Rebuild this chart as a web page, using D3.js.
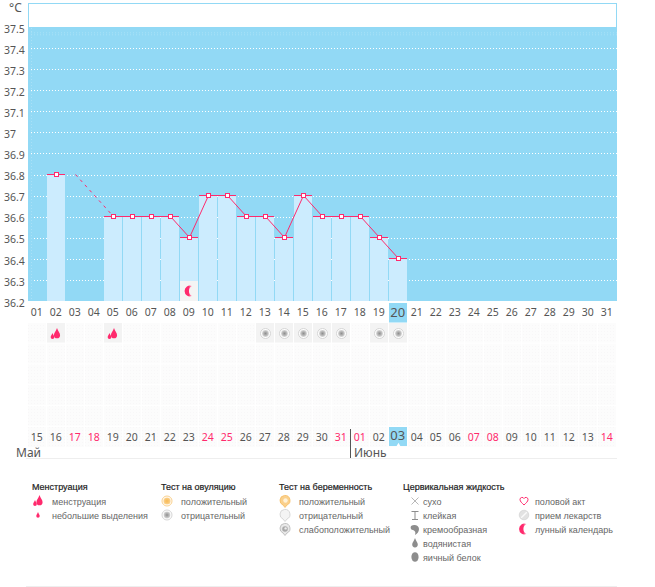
<!DOCTYPE html>
<html><head><meta charset="utf-8">
<script src="https://cdn.jsdelivr.net/npm/d3@7/dist/d3.min.js"></script>
<style>
html,body{margin:0;padding:0;background:#fff}
svg{display:block}
text{font-family:"Noto Sans","Open Sans",sans-serif}
text.lg{font-family:"Liberation Sans",Arial,sans-serif}
</style></head><body><div id="c"></div>
<script>
const cycleDays=["01","02","03","04","05","06","07","08","09","10","11","12","13","14","15","16","17","18","19","20","21","22","23","24","25","26","27","28","29","30","31"];
const calendarDates=["15","16","17","18","19","20","21","22","23","24","25","26","27","28","29","30","31","01","02","03","04","05","06","07","08","09","10","11","12","13","14"];
const weekendDates=["17","18","24","25","31","01","07","08","14"];
const temperatureDays=["02","05","06","07","08","09","10","11","12","13","14","15","16","17","18","19","20"];
const temperatureValues=[36.8,36.6,36.6,36.6,36.6,36.5,36.7,36.7,36.6,36.6,36.5,36.7,36.6,36.6,36.6,36.5,36.4];
const solidFromDay="05";
const gapDays=["03","05"], gapValues=[36.8,36.6];
const yTicks=[37.5,37.4,37.3,37.2,37.1,37,36.9,36.8,36.7,36.6,36.5,36.4,36.3,36.2];
const menstruationDays=["02","05"], ovulationNegDays=["13","14","15","16","17","19","20"], moonDays=["09"];
const todayDay="20", todayDate="03";
const months=["Май","Июнь"];
const legendGroups=[
 {title:"Менструация",items:[["менструация","flame"],["небольшие выделения","drop"]]},
 {title:"Тест на овуляцию",items:[["положительный","ovPos"],["отрицательный","ovNeg"]]},
 {title:"Тест на беременность",items:[["положительный","prPos"],["отрицательный","prNeg"],["слабоположительный","prWeak"]]},
 {title:"Цервикальная жидкость",items:[["сухо","dry"],["клейкая","sticky"],["кремообразная","creamy"],["водянистая","watery"],["яичный белок","egg"]]},
 {title:"",items:[["половой акт","heart"],["прием лекарств","pill"],["лунный календарь","moon"]]}
];

const W=655,H=587,BLUE="#92d9f5",LIGHT="#ccecfe",PINK="#ff2a6d",TXT="#555";
const svg=d3.select("#c").append("svg").attr("width",W).attr("height",H);
const defs=svg.append("defs");
const rg=(id,a,b,c)=>{const g=defs.append("radialGradient").attr("id",id);
 g.append("stop").attr("offset","0%").attr("stop-color",a);
 g.append("stop").attr("offset","55%").attr("stop-color",b);
 g.append("stop").attr("offset","100%").attr("stop-color",c);};
rg("gN","#8f8f8f","#b5b5b5","#d8d8d8");
rg("gO","#f7b955","#f9c671","#fbd596");
const mg=defs.append("linearGradient").attr("id","gM");
mg.append("stop").attr("offset","0%").attr("stop-color",PINK);
mg.append("stop").attr("offset","55%").attr("stop-color",PINK);
mg.append("stop").attr("offset","100%").attr("stop-color","#ffc0d4");
const pat=defs.append("pattern").attr("id","dith").attr("width",3).attr("height",3).attr("patternUnits","userSpaceOnUse");
pat.append("rect").attr("width",3).attr("height",3).attr("fill","#fcfcfc");
pat.append("rect").attr("x",1).attr("y",1).attr("width",1).attr("height",1).attr("fill","#f8f7f8");

const x=d3.scaleBand().domain(cycleDays).range([28,617]);
const y=d3.scaleLinear().domain([36.2,37.5]).range([300.7,27.3]);
const cx=d=>x(d)+9.5, barW=18, step=x.step();
const crisp=v=>Math.round(v)+.5;

// plot frame
svg.append("rect").attr("x",28.5).attr("y",3.5).attr("width",588).attr("height",24).attr("fill","#fff").attr("stroke",BLUE);
svg.append("rect").attr("x",28).attr("y",27).attr("width",589).attr("height",274).attr("fill",BLUE);
// gridlines
svg.append("g").selectAll("line").data(yTicks.filter(t=>t<37.5)).join("line")
 .attr("x1",31).attr("x2",617).attr("y1",d=>crisp(y(d))).attr("y2",d=>crisp(y(d)))
 .attr("stroke","#fff").attr("stroke-dasharray","1,2");
svg.append("g").selectAll("line").data([5.5,7.5]).join("line")
 .attr("x1",31).attr("x2",617).attr("y1",d=>y(37.5)+d).attr("y2",d=>y(37.5)+d)
 .attr("stroke","#a9e1f7").attr("stroke-dasharray","1,2");
svg.append("line").attr("x1",31.5).attr("x2",31.5).attr("y1",28).attr("y2",300).attr("stroke","#a9e1f7").attr("stroke-dasharray","1,2");

// y axis labels
const ya=svg.append("g").attr("transform","translate(22,2)").call(d3.axisLeft(y).tickValues(yTicks).tickSize(0).tickFormat(d=>String(d)));
ya.select(".domain").remove();
ya.selectAll("text").attr("x",-18).attr("text-anchor","start").attr("font-size",10.5).attr("fill",TXT).style("font-family",'"Noto Sans"');
svg.append("text").attr("x",9).attr("y",12).attr("font-size",12).attr("fill",TXT).text("°C");

// bars
const temps=temperatureDays.map((d,i)=>({d,v:temperatureValues[i]}));
const my=v=>Math.round(y(v)-.7)+.5;
svg.append("g").selectAll("rect").data(temps).join("rect")
 .attr("x",d=>x(d.d)).attr("y",d=>my(d.v)).attr("width",barW).attr("height",d=>301-my(d.v)).attr("fill",LIGHT);

// moon cell
svg.append("g").selectAll("rect").data(moonDays).join("rect").attr("x",d=>x(d)).attr("y",281).attr("width",barW).attr("height",20).attr("fill","#f4f4f4");

// cell grid
const rows=d3.range(5);
const rowY=r=>323+r*20.8;
const grid=svg.append("g");
rows.forEach(r=>grid.append("g").selectAll("rect").data(cycleDays).join("rect")
 .attr("x",d=>x(d)).attr("y",rowY(r)).attr("width",barW).attr("height",19.5).attr("fill","url(#dith)"));
grid.append("g").selectAll("rect").data(cycleDays).join("rect")
 .attr("x",d=>x(d)).attr("y",427).attr("width",barW).attr("height",20).attr("fill","url(#dith)");
svg.append("g").selectAll("rect").data(menstruationDays.concat(ovulationNegDays)).join("rect")
 .attr("x",d=>x(d)).attr("y",rowY(0)).attr("width",barW).attr("height",19.5).attr("fill","#f3f3f3");

// today highlights
svg.append("rect").attr("x",x(todayDay)).attr("y",303).attr("width",barW).attr("height",19.5).attr("fill",BLUE);
const iDate=calendarDates.indexOf(todayDate);
svg.append("rect").attr("x",x(cycleDays[iDate])).attr("y",427).attr("width",barW).attr("height",19).attr("fill",BLUE);
svg.append("path").attr("d",d3.symbol(d3.symbolTriangle,9)()).attr("transform",`translate(${cx(cycleDays[iDate])},445.5)`).attr("fill","#fff");

// labels
svg.append("g").selectAll("text").data(cycleDays).join("text")
 .attr("x",d=>cx(d)-.8).attr("y",d=>d===todayDay?317:316).attr("text-anchor","middle")
 .attr("font-size",d=>d===todayDay?13:10.5).attr("fill",TXT).text(d=>d);
svg.append("g").selectAll("text").data(calendarDates).join("text")
 .attr("x",(d,i)=>cx(cycleDays[i])-.8).attr("y",(d,i)=>i===iDate?440:441).attr("text-anchor","middle")
 .attr("font-size",(d,i)=>i===iDate?13:10.5)
 .attr("fill",d=>weekendDates.includes(d)?PINK:TXT).text(d=>d);
const monthSplit=calendarDates.indexOf("01");
svg.append("text").attr("x",16).attr("y",457).attr("font-size",12).attr("fill",TXT).text(months[0]);
svg.append("text").attr("x",354).attr("y",457).attr("font-size",12).attr("fill",TXT).text(months[1]);
svg.append("line").attr("x1",x(cycleDays[monthSplit])-.5).attr("x2",x(cycleDays[monthSplit])-.5).attr("y1",429).attr("y2",458).attr("stroke","#555");
[458.5,586.5].forEach(v=>svg.append("line").attr("x1",26).attr("x2",617).attr("y1",v).attr("y2",v).attr("stroke","#eeeeee"));

// temperature tops and lines
svg.append("g").selectAll("line").data(temps).join("line")
 .attr("x1",d=>x(d.d)).attr("x2",(d,i)=>{const n=temps[i+1];return x(d.d)+(n&&n.v===d.v&&cycleDays.indexOf(n.d)===cycleDays.indexOf(d.d)+1?step:barW);})
 .attr("y1",d=>my(d.v)).attr("y2",d=>my(d.v)).attr("stroke",PINK);
const line=d3.line().x(d=>cx(d.d)).y(d=>my(d.v));
svg.append("path").datum(temps.filter(t=>t.d>=solidFromDay)).attr("d",line).attr("fill","none").attr("stroke",PINK);
svg.append("path").datum(gapDays.map((d,i)=>({d,v:gapValues[i]}))).attr("d",line).attr("fill","none").attr("stroke",PINK).attr("stroke-dasharray","3,4");
svg.append("g").selectAll("rect").data(temps).join("rect")
 .attr("x",d=>Math.floor(cx(d.d))-1.5).attr("y",d=>my(d.v)-2).attr("width",4).attr("height",4)
 .attr("fill","#fff").attr("stroke",PINK);

// icons
const G="#8d8d8d";
const dropP="M0,-5C1,-2 2.8,-.5 2.8,1.6A2.8,2.8 0 0 1 -2.8,1.6C-2.8,-.5 -1,-2 0,-5Z";
const pin="M-5,-1A5,5 0 1 1 2,4L0,6.5L-2,4A5,5 0 0 1 -5,-1Z";
const icons={
 flame:g=>{g.append("path").attr("d",dropP).attr("transform","translate(1.5,-.5) scale(1.1)").attr("fill",PINK);
  g.append("path").attr("d",dropP).attr("transform","translate(-3,2.2) scale(.65)").attr("fill",PINK);},
 drop:g=>g.append("path").attr("d",dropP).attr("transform","scale(.62)").attr("fill",PINK),
 ovPos:g=>{g.append("circle").attr("r",5).attr("fill","#fff").attr("stroke","#fad08c");g.append("circle").attr("r",3.6).attr("fill","url(#gO)");},
 ovNeg:g=>{g.append("circle").attr("r",5).attr("fill","#fff").attr("stroke","#d5d5d5");g.append("circle").attr("r",3.4).attr("fill","url(#gN)");},
 prPos:g=>{g.append("path").attr("d",pin).attr("fill","#fad08c").attr("stroke","#f6bb5f").attr("stroke-width",.8);g.append("circle").attr("cx",.5).attr("cy",-.5).attr("r",2.2).attr("fill","#fff2d8");},
 prNeg:g=>g.append("path").attr("d",pin).attr("fill","#f4f4f4").attr("stroke","#cfcfcf").attr("stroke-width",.8),
 prWeak:g=>{g.append("path").attr("d",pin).attr("fill","#e8e8e8").attr("stroke","#b5b5b5").attr("stroke-width",.8);g.append("circle").attr("r",2.8).attr("fill","#a9a9a9");g.append("circle").attr("cx",.6).attr("cy",-.6).attr("r",1.2).attr("fill","#eee");},
 dry:g=>g.append("path").attr("d","M-3.5,-3.5L3.5,3.5M3.5,-3.5L-3.5,3.5").attr("stroke","#999").attr("stroke-width",.7).attr("fill","none"),
 sticky:g=>g.append("path").attr("d","M-3.5,-3.5H3.5M0,-3.5V4M-3,4.5H3").attr("stroke",G).attr("stroke-width",1).attr("fill","none"),
 creamy:g=>g.append("path").attr("d","M-4,-3C-1,-5 4,-4 4,0C4,3 2,5 0,6C1,3 0,2 -2,1C-4,1 -5,-1 -4,-3Z").attr("fill",G),
 watery:g=>g.append("path").attr("d",dropP).attr("fill",G),
 egg:g=>g.append("ellipse").attr("rx",3.6).attr("ry",4.8).attr("fill",G),
 heart:g=>g.append("path").attr("d","M0,4C-2,2 -4,.5 -4,-1.5A2.1,2.1 0 0 1 0,-2.4A2.1,2.1 0 0 1 4,-1.5C4,.5 2,2 0,4Z").attr("fill","#fff").attr("stroke",PINK).attr("stroke-width",1),
 pill:g=>{g.append("circle").attr("r",4.8).attr("fill","#e2e2e2").attr("stroke","#cfcfcf").attr("stroke-width",.6);g.append("path").attr("d","M-2.8,2.8L2.8,-2.8").attr("stroke","#fafafa").attr("stroke-width",1.4);},
 moon:g=>g.append("path").attr("d","M2.5,-5A5.4,5.4 0 1 0 2.5,5A5.6,5.6 0 0 1 2.5,-5Z").attr("fill","url(#gM)")
};
const place=(d,sel,name,yy,dx=0)=>{const g=sel.append("g").attr("transform",`translate(${d+dx},${yy})`);icons[name](g);};
menstruationDays.forEach(d=>place(cx(d),svg,"flame",334,-1));
ovulationNegDays.forEach(d=>place(cx(d),svg,"ovNeg",333.5));
moonDays.forEach(d=>place(cx(d),svg,"moon",291));

// legend
const titleX=[32,161,279,403,0], textX=[52,181,299,423,535], iconX=[38,167,285,415,524];
const rowYs=[501,515,529,543,557];
legendGroups.forEach((g,i)=>{
 svg.append("text").attr("class","lg").attr("x",titleX[i]).attr("y",490).attr("font-size",9).attr("fill","#222").attr("stroke","#222").attr("stroke-width",.2).text(g.title);
 svg.append("g").selectAll("text").data(g.items).join("text").attr("class","lg").attr("x",textX[i]).attr("y",(d,j)=>rowYs[j]+3.5)
  .attr("font-size",9).attr("fill","#666").text(d=>d[0]);
 g.items.forEach((it,j)=>place(iconX[i],svg,it[1],rowYs[j]));
});
</script></body></html>
